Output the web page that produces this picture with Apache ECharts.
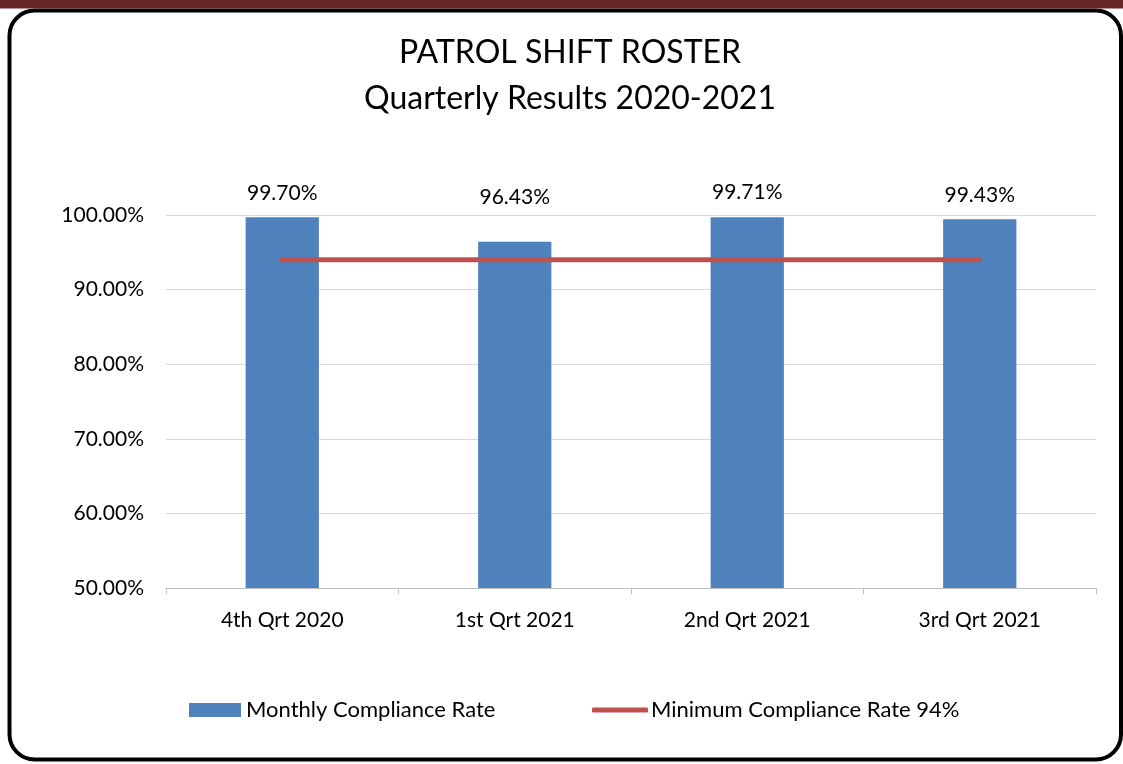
<!DOCTYPE html>
<html><head><meta charset="utf-8">
<script src="https://cdn.jsdelivr.net/npm/echarts@6/dist/echarts.min.js"></script>
<style>html,body{margin:0;padding:0;background:#fff}#c{width:1123px;height:764px}</style>
</head><body><div id="c"></div>
<script>
const titleLines = ['PATROL SHIFT ROSTER', 'Quarterly Results 2020-2021'];
const categories = ['4th Qrt 2020', '1st Qrt 2021', '2nd Qrt 2021', '3rd Qrt 2021'];
const complianceRate = [0.9970, 0.9643, 0.9971, 0.9943];
const minimumRate = [0.94, 0.94, 0.94, 0.94];
const seriesNames = ['Monthly Compliance Rate', 'Minimum Compliance Rate 94%'];
const yMin = 0.5, yMax = 1.0, yInterval = 0.1;

const FONT = 'Lato';
const chart = echarts.init(document.getElementById('c'), null, {renderer: 'canvas'});
const pct = v => (v * 100).toFixed(2) + '%';

chart.setOption({
  animation: false,
  backgroundColor: '#fff',
  textStyle: {fontFamily: FONT},
  graphic: [
    {type: 'rect', z: 0, shape: {x: 9.5, y: 10.5, width: 1111.5, height: 749, r: 25},
     style: {fill: 'none', stroke: '#000', lineWidth: 4}},
    {type: 'rect', z: 1, shape: {x: 0, y: 0, width: 1123, height: 8.5},
     style: {fill: '#662626'}}
  ],
  title: {
    text: titleLines.join('\n'), left: 570, top: 30, textAlign: 'center', padding: 0,
    textStyle: {fontFamily: FONT, fontSize: 32, fontWeight: 'normal', color: '#000', lineHeight: 46}
  },
  legend: [
    {data: [seriesNames[0]], left: 189, top: 699, padding: 0, itemWidth: 52, itemHeight: 14, icon: 'rect',
     textStyle: {fontFamily: FONT, fontSize: 22, color: '#000', padding: [0, 0, 0, 0]}},
    {data: [seriesNames[1]], left: 592, top: 699, padding: 0, itemWidth: 56, itemHeight: 5, icon: 'roundRect',
     textStyle: {fontFamily: FONT, fontSize: 22, color: '#000', padding: [0, 0, 0, -2]}}
  ],
  grid: {left: 166, right: 27, top: 215, bottom: 176, containLabel: false},
  xAxis: {
    type: 'category', data: categories, boundaryGap: true,
    axisLine: {lineStyle: {color: '#BFBFBF', width: 1}},
    axisTick: {show: true, length: 6, lineStyle: {color: '#BFBFBF'}},
    axisLabel: {fontFamily: FONT, fontSize: 21, color: '#000', margin: 22}
  },
  yAxis: {
    type: 'value', min: yMin, max: yMax, interval: yInterval,
    axisLine: {show: false}, axisTick: {show: false},
    splitLine: {lineStyle: {color: '#D9D9D9', width: 1}},
    axisLabel: {fontFamily: FONT, fontSize: 21, color: '#000', margin: 22, formatter: pct}
  },
  series: [
    {
      name: seriesNames[0], type: 'bar', barWidth: '31.5%',
      itemStyle: {color: '#4F81BD'},
      data: complianceRate.map((v, i) => ({
        value: v,
        label: i === 1 ? {offset: [0, -20]} : undefined
      })),
      label: {show: true, position: 'top', distance: 14, fontFamily: FONT, fontSize: 21, color: '#000',
        formatter: p => pct(p.value)}
    },
    {
      name: seriesNames[1], type: 'line', data: minimumRate, symbol: 'none', z: 5,
      lineStyle: {color: '#C0504D', width: 5, cap: 'round'},
      itemStyle: {color: '#C0504D'}
    }
  ]
});
</script></body></html>
